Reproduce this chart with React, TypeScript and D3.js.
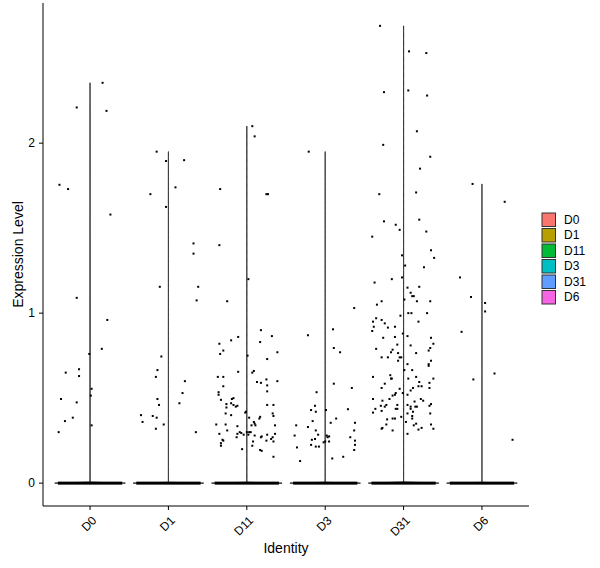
import * as d3 from 'd3'
import React from 'react'

const identities = ['D0', 'D1', 'D11', 'D3', 'D31', 'D6']
const colors = ['#F8766D', '#B79F00', '#00BA38', '#00BFC4', '#619CFF', '#F564E3']
const yTicks = [0, 1, 2]
// cells at zero per identity (only shapes the spike of each violin)
const zeroCells = [900, 700, 800, 600, 700, 500]
// jitter of the zero cells, in category units
const zeroJitter = 0.41

// [jitter (category units), expression level] of each expressing cell
const d0Cells = [
  [0.16, 2.355], [-0.17, 2.21], [0.21, 2.19], [-0.39, 1.755], [-0.28, 1.73], [0.26, 1.58],
  [-0.17, 1.09], [0.22, 0.96], [0.15, 0.79], [-0.01, 0.76], [-0.31, 0.65], [-0.14, 0.67],
  [-0.14, 0.63], [0.02, 0.555], [0.01, 0.515], [-0.37, 0.495], [-0.17, 0.475], [-0.22, 0.385],
  [-0.32, 0.365], [0.02, 0.34], [-0.40, 0.30],
]
const d1Cells = [
  [-0.15, 1.95], [-0.03, 1.895], [0.20, 1.90], [-0.23, 1.70], [0.09, 1.74], [-0.03, 1.625],
  [0.32, 1.41], [0.32, 1.35], [-0.11, 1.155], [0.38, 1.155], [0.36, 1.075], [-0.09, 0.745],
  [-0.14, 0.665], [-0.16, 0.625], [0.21, 0.60], [0.18, 0.53], [-0.14, 0.495], [-0.12, 0.46],
  [0.14, 0.47], [-0.35, 0.40], [-0.20, 0.395], [-0.15, 0.385], [-0.33, 0.36], [-0.06, 0.345],
  [-0.16, 0.32], [0.35, 0.30],
]
const d11Cells = [
  [0.07, 2.10], [0.10, 2.04], [-0.34, 1.73], [0.25, 1.70], [0.27, 1.70], [-0.35, 1.40],
  [0.02, 1.20], [-0.25, 1.07], [0.18, 0.90], [0.32, 0.865], [-0.11, 0.86], [-0.20, 0.84],
  [0.17, 0.83], [-0.35, 0.82], [-0.30, 0.78], [0.39, 0.77], [-0.34, 0.76], [0.01, 0.75],
  [0.26, 0.73], [0.09, 0.66], [0.07, 0.65], [-0.11, 0.655], [-0.37, 0.625], [-0.30, 0.625],
  [0.25, 0.61], [0.13, 0.595], [0.18, 0.59], [0.39, 0.60], [0.26, 0.575], [-0.30, 0.57],
  [0.26, 0.54], [-0.36, 0.535], [-0.36, 0.52], [-0.17, 0.50], [-0.19, 0.495], [-0.33, 0.49],
  [-0.20, 0.47], [-0.26, 0.465], [-0.17, 0.46], [-0.12, 0.455], [-0.14, 0.45], [0.26, 0.46],
  [0.34, 0.46], [-0.26, 0.445], [-0.01, 0.42], [-0.02, 0.415], [0.33, 0.41], [-0.27, 0.41],
  [-0.20, 0.40], [0.34, 0.395], [0.17, 0.39], [0.03, 0.385], [0.16, 0.38], [0.09, 0.36],
  [0.10, 0.35], [-0.39, 0.345], [-0.27, 0.345], [0.06, 0.34], [0.11, 0.34], [0.36, 0.34],
  [-0.12, 0.335], [-0.25, 0.31], [-0.09, 0.30], [-0.07, 0.295], [0.00, 0.30], [0.03, 0.30],
  [0.05, 0.30], [-0.35, 0.29], [-0.12, 0.29], [-0.04, 0.285], [0.02, 0.285], [0.26, 0.285],
  [0.36, 0.29], [0.10, 0.28], [0.19, 0.275], [0.18, 0.27], [-0.13, 0.27], [0.33, 0.27],
  [0.31, 0.26], [-0.31, 0.255], [0.25, 0.25], [-0.30, 0.25], [0.08, 0.245], [0.34, 0.245],
  [-0.33, 0.235], [0.07, 0.22], [-0.33, 0.22], [-0.06, 0.20], [0.17, 0.195], [0.19, 0.19],
  [0.34, 0.155],
]
const d3Cells = [
  [-0.21, 1.95], [0.37, 1.03], [0.10, 0.905], [-0.22, 0.87], [0.11, 0.795], [0.19, 0.77],
  [0.11, 0.585], [0.34, 0.56], [-0.11, 0.535], [-0.13, 0.455], [-0.18, 0.43], [-0.12, 0.42],
  [0.01, 0.43], [0.29, 0.435], [0.14, 0.38], [-0.16, 0.365], [0.07, 0.355], [0.38, 0.355],
  [-0.22, 0.33], [-0.12, 0.31], [0.37, 0.31], [-0.09, 0.285], [0.02, 0.28], [0.05, 0.275],
  [0.03, 0.27], [0.32, 0.27], [-0.17, 0.255], [-0.13, 0.26], [0.00, 0.245], [0.05, 0.245],
  [-0.02, 0.24], [0.38, 0.25], [0.38, 0.225], [-0.18, 0.225], [-0.12, 0.215], [-0.08, 0.215],
  [0.37, 0.195], [0.23, 0.155], [0.09, 0.145], [-0.37, 0.34], [-0.39, 0.28], [-0.36, 0.21],
  [-0.32, 0.13],
]
const d31Cells = [
  [-0.30, 2.69], [0.07, 2.54], [0.29, 2.53], [-0.25, 2.30], [0.06, 2.31], [0.30, 2.28],
  [0.17, 2.07], [-0.26, 1.99], [0.34, 1.92], [0.21, 1.85], [-0.31, 1.70], [0.16, 1.71],
  [-0.25, 1.54], [0.20, 1.55], [-0.10, 1.52], [-0.05, 1.49], [0.29, 1.48], [-0.40, 1.45],
  [0.35, 1.37], [0.39, 1.325], [-0.02, 1.34], [0.02, 1.28], [0.26, 1.27], [-0.02, 1.21],
  [-0.15, 1.20], [-0.37, 1.18], [0.05, 1.15], [0.20, 1.155], [0.09, 1.12], [0.13, 1.10],
  [0.11, 1.10], [0.01, 1.08], [-0.28, 1.07], [0.17, 1.07], [0.34, 1.07], [-0.34, 1.05],
  [0.06, 1.00], [0.10, 1.00], [0.30, 1.00], [-0.04, 0.985], [-0.35, 0.97], [-0.28, 0.96],
  [0.19, 0.95], [-0.39, 0.95], [-0.24, 0.94], [-0.38, 0.92], [-0.20, 0.915], [-0.11, 0.92],
  [-0.40, 0.895], [-0.01, 0.88], [0.05, 0.865], [-0.26, 0.855], [-0.11, 0.86], [0.35, 0.855],
  [0.38, 0.82], [-0.08, 0.815], [0.09, 0.81], [0.34, 0.795], [-0.35, 0.79], [-0.14, 0.785],
  [0.32, 0.78], [-0.16, 0.77], [0.16, 0.765], [-0.07, 0.765], [-0.05, 0.74], [-0.03, 0.74],
  [-0.28, 0.74], [-0.20, 0.74], [-0.07, 0.72], [0.35, 0.72], [0.05, 0.70], [0.32, 0.70],
  [0.32, 0.69], [0.11, 0.665], [0.01, 0.665], [-0.17, 0.635], [-0.39, 0.625], [0.16, 0.625],
  [-0.16, 0.615], [-0.15, 0.615], [0.06, 0.615], [0.38, 0.615], [0.20, 0.595], [-0.24, 0.585],
  [0.33, 0.59], [0.19, 0.57], [0.23, 0.57], [-0.28, 0.56], [0.12, 0.56], [0.33, 0.56],
  [-0.05, 0.555], [0.09, 0.545], [-0.10, 0.53], [-0.11, 0.52], [-0.01, 0.53], [0.05, 0.52],
  [-0.14, 0.515], [-0.39, 0.495], [-0.18, 0.495], [0.22, 0.495], [0.25, 0.485], [-0.27, 0.485],
  [0.14, 0.48], [0.35, 0.465], [0.05, 0.46], [-0.22, 0.46], [-0.24, 0.45], [-0.29, 0.455],
  [-0.08, 0.46], [0.33, 0.455], [0.09, 0.45], [0.15, 0.45], [0.17, 0.45], [-0.36, 0.437],
  [-0.10, 0.437], [-0.08, 0.437], [0.09, 0.437], [-0.39, 0.415], [-0.28, 0.425], [0.12, 0.42],
  [-0.03, 0.39], [0.05, 0.41], [0.11, 0.395], [0.34, 0.41], [-0.21, 0.375], [-0.14, 0.38],
  [-0.11, 0.38], [0.11, 0.38], [0.03, 0.36], [0.16, 0.35], [-0.22, 0.345], [0.35, 0.345],
  [0.13, 0.34], [-0.27, 0.325], [-0.28, 0.32], [0.23, 0.325], [0.38, 0.32], [0.19, 0.315],
  [-0.14, 0.31], [0.05, 0.29],
]
const d6Cells = [
  [-0.12, 1.76], [0.29, 1.655], [-0.28, 1.21], [-0.14, 1.095], [0.04, 1.06], [0.04, 1.01],
  [-0.26, 0.89], [0.16, 0.645], [-0.11, 0.61], [0.39, 0.255],
]
const cellsByIdentity = [d0Cells, d1Cells, d11Cells, d3Cells, d31Cells, d6Cells]

const W = 600
const H = 568
const panel = { left: 43, right: 529, top: 3, bottom: 506 }
const font = 'Arial, "Liberation Sans", sans-serif'

const gauss = (u: number) => Math.exp(-0.5 * u * u)

export default function App() {
  const
    allValues = cellsByIdentity.flatMap(c => c.map(d => d[1])),
    yMax = d3.max(allValues)!,
    pad = yMax * 0.05,
    x = d3.scalePoint<string>().domain(identities).range([panel.left, panel.right]).padding(0.6),
    step = x.step(),
    y = d3.scaleLinear().domain([-pad, yMax + pad]).range([panel.bottom, panel.top]),
    bw = 0.0015

  const violins = identities.map((id, i) => {
    const
      vals = cellsByIdentity[i].map(d => d[1]),
      top = d3.max(vals)!,
      grid = d3.range(0, 401).map(k => (top * k) / 400),
      dens = grid.map(v => zeroCells[i] * gauss(v / bw) + d3.sum(vals, xv => gauss((v - xv) / bw))),
      dMax = d3.max(dens)!,
      cx = x(id)!,
      half = step * 0.45,
      pts = grid.map((v, k) => [v, (dens[k] / dMax) * half] as [number, number]),
      area = d3.area<[number, number]>()
        .y(d => y(d[0]))
        .x0(d => cx - d[1])
        .x1(d => cx + d[1])
    return area(pts) as string
  })

  return (
    <svg width={W} height={H} style={{ position: 'absolute', left: 0, top: 0, background: '#fff' }} fontFamily={font}>
      <rect width={W} height={H} fill='#fff' />
      {/* violins */}
      {identities.map((id, i) => (
        <path key={id} d={violins[i]} fill={colors[i]} stroke='#333' strokeWidth={1} />
      ))}
      {/* zero-expression cells */}
      {identities.map(id => (
        <rect key={`z${id}`} x={x(id)! - zeroJitter * step} y={y(0) - 1.5}
          width={2 * zeroJitter * step} height={3} fill='#000' />
      ))}
      {/* expressing cells */}
      {identities.map((id, i) => cellsByIdentity[i].map((d, k) => (
        <rect key={`${id}-${k}`} x={x(id)! + d[0] * step - 1} y={y(d[1]) - 1} width={2} height={2} fill='#000' />
      )))}
      {/* y axis */}
      <line x1={panel.left} x2={panel.left} y1={panel.top} y2={panel.bottom} stroke='#000' strokeWidth={1} />
      {yTicks.map(t => (
        <g key={t}>
          <line x1={panel.left - 4} x2={panel.left} y1={y(t)} y2={y(t)} stroke='#000' />
          <text x={panel.left - 8} y={y(t)} textAnchor='end' dominantBaseline='central' fontSize={12} fill='#000'>{t}</text>
        </g>
      ))}
      <text transform={`translate(18,${(panel.top + panel.bottom) / 2}) rotate(-90)`} textAnchor='middle'
        dominantBaseline='central' fontSize={14} fill='#000'>Expression Level</text>
      {/* x axis */}
      <line x1={panel.left} x2={panel.right} y1={panel.bottom} y2={panel.bottom} stroke='#000' strokeWidth={1} />
      {identities.map(id => (
        <g key={id}>
          <line x1={x(id)} x2={x(id)} y1={panel.bottom} y2={panel.bottom + 4} stroke='#000' />
          <text transform={`translate(${x(id)! + 1},${panel.bottom + 9}) rotate(-45)`} textAnchor='end'
            dominantBaseline='hanging' fontSize={12} fill='#000'>{id}</text>
        </g>
      ))}
      <text x={(panel.left + panel.right) / 2} y={553} textAnchor='middle' fontSize={14} fill='#000'>Identity</text>
      {/* legend */}
      {identities.map((id, i) => (
        <g key={`l${id}`} transform={`translate(542,${213 + i * 15.5})`}>
          <rect width={13.5} height={13.5} fill={colors[i]} stroke='#333' strokeWidth={1} />
          <text x={22} y={6.75} dominantBaseline='central' fontSize={12} fill='#000'>{id}</text>
        </g>
      ))}
    </svg>
  )
}
